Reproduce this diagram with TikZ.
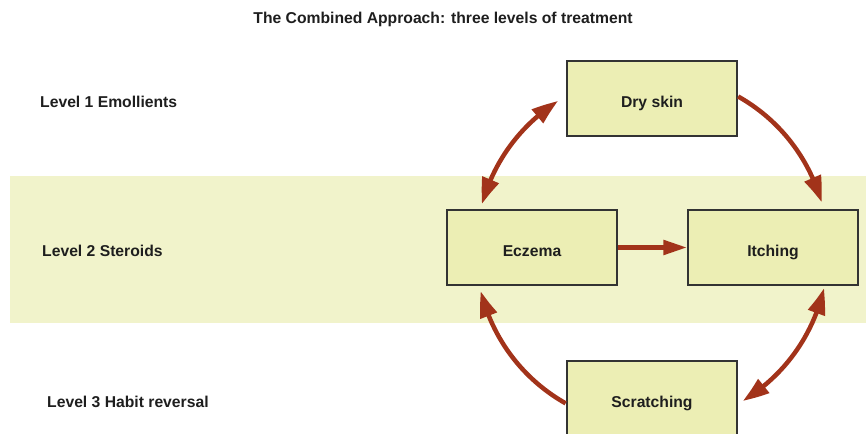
\documentclass[tikz,border=0pt]{standalone}
\usepackage{fontspec}
\setmainfont{Liberation Sans}
\usetikzlibrary{arrows.meta,bending}
\definecolor{boxfill}{HTML}{ECEEB4}
\definecolor{bandfill}{HTML}{F1F3CB}
\definecolor{arrowred}{HTML}{A2331A}
\definecolor{txt}{HTML}{1E1E1E}
\begin{document}
\begin{tikzpicture}[x=1pt,y=1pt,
  every node/.style={font=\fontsize{15.7}{18}\selectfont\bfseries, text=txt},
  stage/.style={draw=black!80, line width=1.3pt, fill=boxfill,
    minimum width=170pt, minimum height=75pt, inner sep=0pt,
    text height=17.6pt, text depth=0pt},
  level/.style={anchor=west, inner sep=0pt},
  flow/.style={draw=arrowred, line width=4.5pt,
    -{Triangle[length=26pt,width=17pt,bend]}},
  flowboth/.style={draw=arrowred, line width=4.5pt,
    {Triangle[length=26pt,width=17pt,bend]}-{Triangle[length=26pt,width=17pt,bend]}}]
  \useasboundingbox (0,0) rectangle (866,433);
  % middle band: level 2
  \fill[bandfill] (10,110) rectangle (866,257);

  % title and level labels
  \node (title) at (443,414) {The Combined Approach: three levels of treatment};
  \node[level] (lv1) at (40,331) {Level 1 Emollients};
  \node[level] (lv2) at (42,182) {Level 2 Steroids};
  \node[level] (lv3) at (47,31) {Level 3 Habit reversal};

  % the four stages of the cycle
  \node[stage] (dry) at (652,334.5) {Dry skin};
  \node[stage] (ecz) at (532,185.5) {Eczema};
  \node[stage] (itch) at (773,185.5) {Itching};
  \node[stage] (scr) at (652,34.5) {Scratching};

  % centre of the cycle
  \coordinate (c) at (652,183);

  \draw[flowboth] ([shift={(122.2:176)}]c) arc[start angle=122.2, end angle=164.9, radius=176];
  \draw[flow] ([shift={(60.7:176)}]c) arc[start angle=60.7, end angle=15.7, radius=176];
  \draw[flow] ([shift={(240.6:176)}]c) arc[start angle=240.6, end angle=193.5, radius=176];
  \draw[flowboth] ([shift={(-12.5:176)}]c) arc[start angle=-12.5, end angle=-59, radius=176];
  \draw[draw=arrowred, line width=5pt, -{Triangle[length=24pt,width=14pt]}]
    (ecz.east) -- (itch.west |- ecz.east);
\end{tikzpicture}
\end{document}
